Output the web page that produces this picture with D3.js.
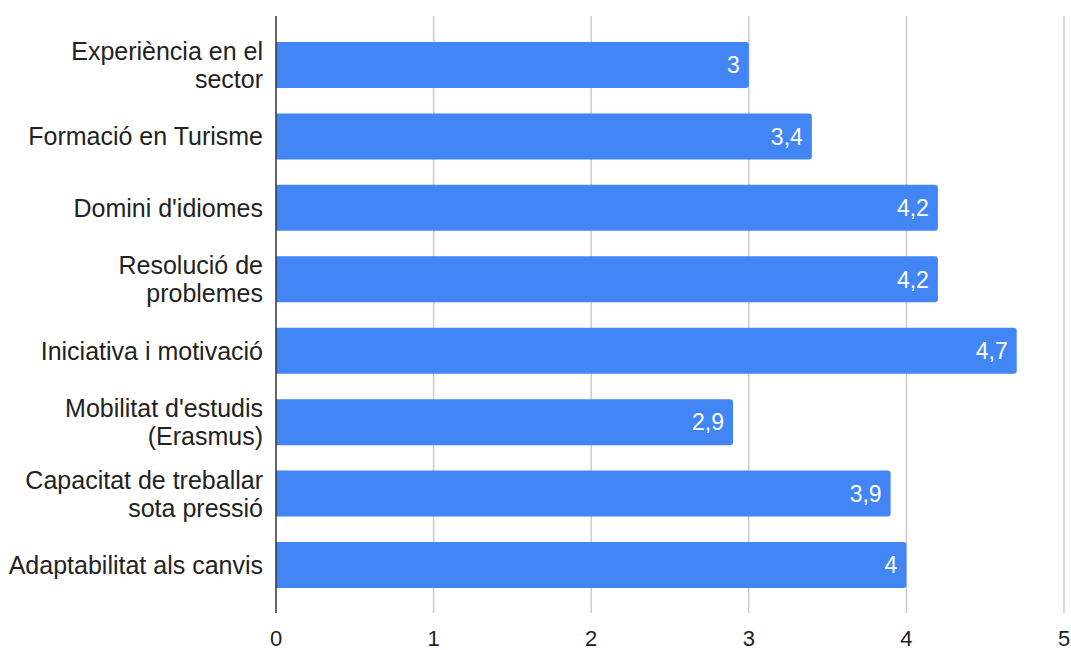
<!DOCTYPE html>
<html><head><meta charset="utf-8">
<script src="https://cdn.jsdelivr.net/npm/d3@7"></script>
<style>html,body{margin:0;padding:0;background:#fff;}svg{display:block;}</style>
</head><body>
<svg id="chart" width="1071" height="650"></svg>
<script>
const categories = [
  ["Experiència en el", "sector"],
  ["Formació en Turisme"],
  ["Domini d'idiomes"],
  ["Resolució de", "problemes"],
  ["Iniciativa i motivació"],
  ["Mobilitat d'estudis", "(Erasmus)"],
  ["Capacitat de treballar", "sota pressió"],
  ["Adaptabilitat als canvis"]
];
const values = [3, 3.4, 4.2, 4.2, 4.7, 2.9, 3.9, 4];
const xTicks = [0, 1, 2, 3, 4, 5];

const svg = d3.select("#chart");
const x = d3.scaleLinear().domain([0, 5]).range([276, 1064]);
const ids = categories.map((c, i) => i);
const y = d3.scaleBand().domain(ids).range([29.3, 600.7]).paddingInner(0.356).paddingOuter(0.178);

// gridlines
svg.append("g").selectAll("line").data(xTicks.filter(t => t > 0)).join("line")
  .attr("x1", d => x(d)).attr("x2", d => x(d))
  .attr("y1", 16).attr("y2", 613)
  .attr("stroke", "#cccccc").attr("stroke-width", 1.5);

// bars with rounded right end
const r = 3;
svg.append("g").selectAll("path").data(values).join("path")
  .attr("fill", "#4285F4")
  .attr("d", (d, i) => {
    const x0 = x(0), x1 = x(d), y0 = y(i), h = y.bandwidth();
    return `M${x0},${y0}H${x1 - r}Q${x1},${y0} ${x1},${y0 + r}V${y0 + h - r}Q${x1},${y0 + h} ${x1 - r},${y0 + h}H${x0}Z`;
  });

// value labels
svg.append("g").selectAll("text").data(values).join("text")
  .attr("x", d => x(d) - 9)
  .attr("y", (d, i) => y(i) + y.bandwidth() / 2)
  .attr("dy", "0.36em")
  .attr("text-anchor", "end")
  .attr("fill", "#ffffff")
  .attr("font-family", "'Liberation Sans', Arial, sans-serif")
  .attr("font-size", 23)
  .text(d => String(d).replace(".", ","));

// axis line
svg.append("line").attr("x1", x(0)).attr("x2", x(0)).attr("y1", 16).attr("y2", 613)
  .attr("stroke", "#333333").attr("stroke-width", 1.5);

// category labels
const lineH = 28;
const cat = svg.append("g").selectAll("text").data(categories).join("text")
  .attr("text-anchor", "end")
  .attr("fill", "#222222")
  .attr("font-family", "'Liberation Sans', Arial, sans-serif")
  .attr("font-size", 25);
cat.each(function(lines, i) {
  const cy = y(i) + y.bandwidth() / 2;
  const start = cy - (lines.length - 1) * lineH / 2;
  d3.select(this).selectAll("tspan").data(lines).join("tspan")
    .attr("x", 263)
    .attr("y", (l, j) => start + j * lineH)
    .attr("dy", "0.36em")
    .text(l => l);
});

// x tick labels
svg.append("g").selectAll("text").data(xTicks).join("text")
  .attr("x", d => x(d))
  .attr("y", 645.5)
  .attr("text-anchor", "middle")
  .attr("fill", "#222222")
  .attr("font-family", "'Liberation Sans', Arial, sans-serif")
  .attr("font-size", 22)
  .text(d => d);
</script>
</body></html>
